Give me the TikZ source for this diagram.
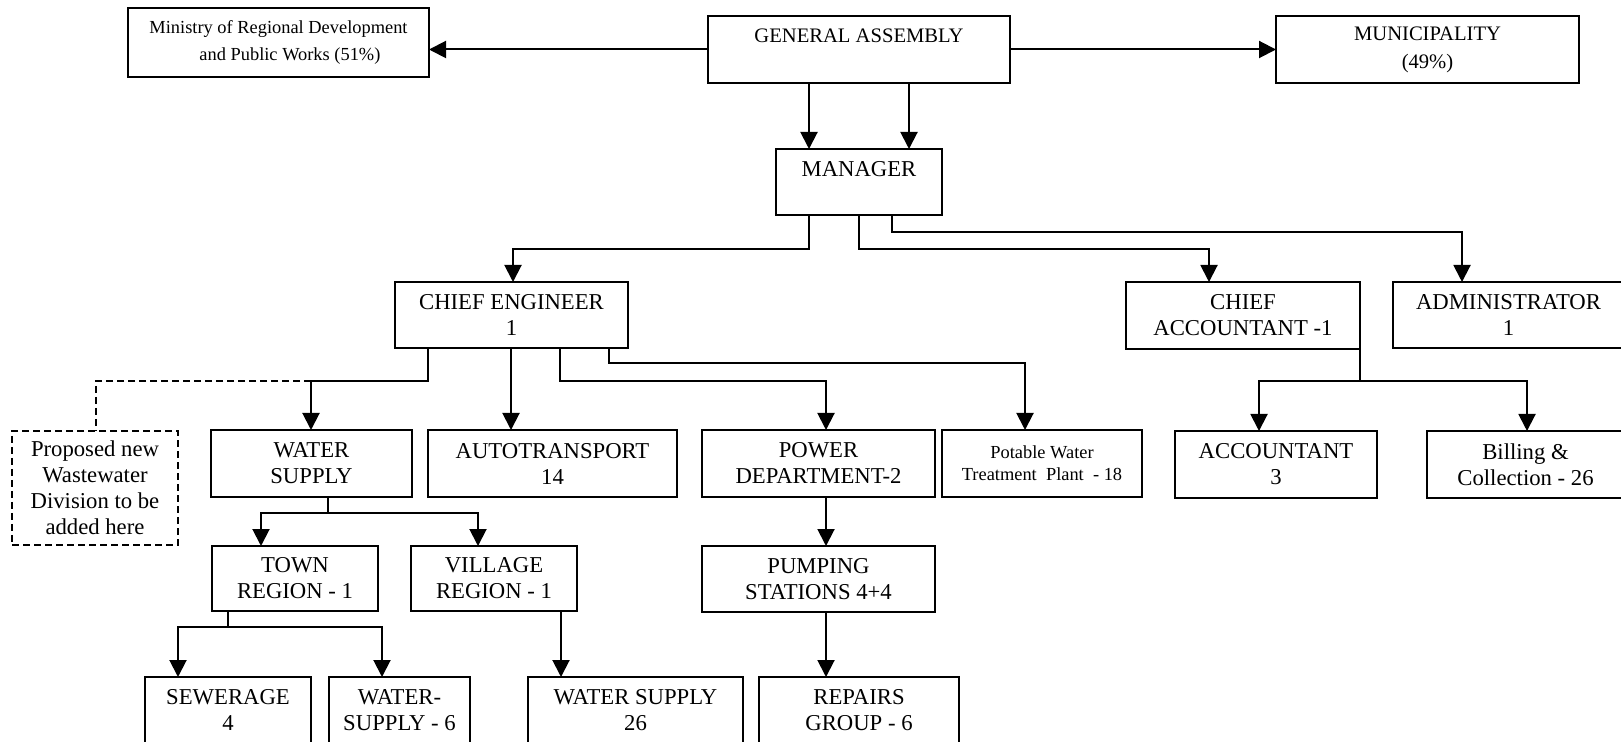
\documentclass[tikz,border=0pt]{standalone}
\usepackage{fontspec}
\setmainfont{Liberation Serif}
\usetikzlibrary{arrows.meta}

% \orgunit{style}{name}{x1}{y1}{x2}{y2}{text}: a box given by its corners
\newcommand\orgunit[7]{%
  \node[#1, minimum width={(#5-#3)*0.5pt}, minimum height={(#6-#4)*0.5pt}]
    (#2) at ({(#3+#5)/2},{(#4+#6)/2}) {#7};}

\tikzset{
  unit/.style={draw, line width=0.9pt, inner sep=0pt, outer sep=0pt, align=center,
    font=\fontsize{11.35}{13}\selectfont},
  topunit/.style={unit, font=\fontsize{10.3}{14}\selectfont},
  smallunit/.style={unit, font=\fontsize{9.2}{11}\selectfont},
  planunit/.style={unit, dash pattern=on 3.5pt off 2pt},
  link/.style={line width=1pt},
  planlink/.style={line width=0.9pt, dash pattern=on 3.5pt off 2pt},
  arr/.style={link, -{Triangle[length=8.5pt,width=8.5pt]}},
}

\begin{document}
\begin{tikzpicture}[x=0.5pt, y=-0.5pt]
\path[use as bounding box, clip] (0,0) rectangle (1621,742);

% top level
\orgunit{smallunit, align=left, font=\fontsize{9.2}{13.5}\selectfont}{min}{128}{8}{429}{77}
  {Ministry of Regional Development\\\hspace*{25pt}and Public Works (51\%)}
\orgunit{topunit}{ga}{708}{16}{1010}{83}{GENERAL ASSEMBLY\\\mbox{}}
\orgunit{topunit}{mun}{1276}{16}{1579}{83}{MUNICIPALITY\\(49\%)}
\orgunit{unit}{man}{776}{149}{942}{215}{MANAGER\\\mbox{}}

% second level
\orgunit{unit}{ce}{395}{282}{628}{348}{CHIEF ENGINEER\\1}
\orgunit{unit}{ca}{1126}{282}{1360}{349}{CHIEF\\ACCOUNTANT -1}
\orgunit{unit}{adm}{1393}{282}{1624}{348}{ADMINISTRATOR\\1}

% third level
\orgunit{planunit}{prop}{12}{431}{178}{545}{Proposed new\\Wastewater\\Division to be\\added here}
\orgunit{unit}{ws}{211}{430}{412}{497}{WATER\\SUPPLY}
\orgunit{unit}{at}{428}{430}{677}{497}{AUTOTRANSPORT\\14}
\orgunit{unit}{pw}{702}{430}{935}{497}{POWER\\DEPARTMENT-2}
\orgunit{smallunit}{pot}{942}{430}{1142}{497}{Potable Water\\Treatment~ Plant~ - 18}
\orgunit{unit}{acc}{1175}{431}{1377}{498}{ACCOUNTANT\\3}
\orgunit{unit}{bill}{1427}{431}{1624}{498}{Billing \&\\Collection - 26}

% fourth level
\orgunit{unit}{town}{212}{546}{378}{611}{TOWN\\REGION - 1}
\orgunit{unit}{vil}{411}{546}{577}{611}{VILLAGE\\REGION - 1}
\orgunit{unit}{pump}{702}{546}{935}{612}{PUMPING\\STATIONS 4+4}

% bottom level
\orgunit{unit}{sew}{145}{677}{311}{743}{SEWERAGE\\4}
\orgunit{unit}{ws6}{329}{677}{470}{743}{WATER-\\SUPPLY - 6}
\orgunit{unit}{ws26}{528}{677}{743}{743}{WATER SUPPLY\\26}
\orgunit{unit}{rep}{759}{677}{959}{743}{REPAIRS\\GROUP - 6}

% general assembly
\draw[arr] (ga.west) -- (ga.west -| min.east);
\draw[arr] (ga.east) -- (ga.east -| mun.west);
\draw[arr] (ga.south -| 809,0) -- (man.north -| 809,0);
\draw[arr] (ga.south -| 909,0) -- (man.north -| 909,0);

% manager
\draw[arr] (man.south -| 809,0) -- (809,249) -- (513,249) -- (ce.north -| 513,0);
\draw[arr] (man.south -| 859,0) -- (859,249) -- (1209,249) -- (ca.north -| 1209,0);
\draw[arr] (man.south -| 892,0) -- (892,232) -- (1462,232) -- (adm.north -| 1462,0);

% chief engineer
\draw[arr] (ce.south -| 428,0) -- (428,381) -- (311,381) -- (ws.north -| 311,0);
\draw[planlink] (311,381) -- (96,381) -- (prop.north -| 96,0);
\draw[arr] (ce.south -| 511,0) -- (at.north -| 511,0);
\draw[arr] (ce.south -| 560,0) -- (560,381) -- (826,381) -- (pw.north -| 826,0);
\draw[arr] (ce.south -| 609,0) -- (609,363) -- (1025,363) -- (pot.north -| 1025,0);

% chief accountant
\draw[link] (ca.south east) -- (1360,381);
\draw[arr] (1360,381) -| (acc.north -| 1259,0);
\draw[arr] (1360,381) -| (bill.north -| 1527,0);

% water supply
\draw[link] (ws.south -| 328,0) -- (328,513);
\draw[arr] (328,513) -| (town.north -| 261,0);
\draw[arr] (328,513) -| (vil.north -| 478,0);

% regions
\draw[link] (town.south -| 228,0) -- (228,627);
\draw[arr] (228,627) -| (sew.north -| 178,0);
\draw[arr] (228,627) -| (ws6.north -| 382,0);
\draw[arr] (vil.south -| 561,0) -- (ws26.north -| 561,0);

% power department
\draw[arr] (pw.south -| 826,0) -- (pump.north -| 826,0);
\draw[arr] (pump.south -| 826,0) -- (rep.north -| 826,0);
\end{tikzpicture}
\end{document}
